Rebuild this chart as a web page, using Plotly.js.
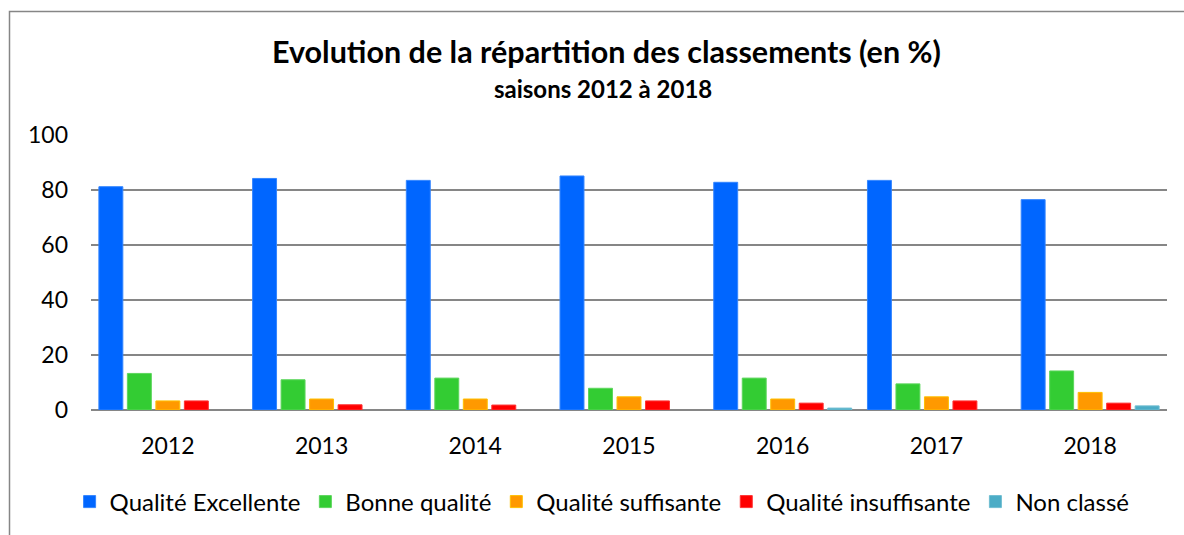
<!DOCTYPE html>
<html>
<head>
<meta charset="utf-8">
<script src="https://cdn.plot.ly/plotly-3.0.1.min.js"></script>
<style>
  html, body { margin: 0; padding: 0; background: #fff; }
  #chart { width: 1184px; height: 535px; }
</style>
</head>
<body>
<div id="chart"></div>
<script>
const years = ['2012', '2013', '2014', '2015', '2016', '2017', '2018'];
const excellente = [81.2, 84.2, 83.5, 85.1, 82.8, 83.5, 76.5];
const bonne = [13.3, 11.0, 11.6, 7.9, 11.6, 9.5, 14.2];
const suffisante = [3.3, 4.0, 4.0, 4.8, 4.0, 4.8, 6.4];
const insuffisante = [3.3, 1.9, 1.8, 3.3, 2.5, 3.3, 2.5];
const nonClasse = [null, null, null, null, 0.7, null, 1.5];
const seriesNames = ['Qualité Excellente', 'Bonne qualité', 'Qualité suffisante', 'Qualité insuffisante', 'Non classé'];
const yTicks = [0, 20, 40, 60, 80, 100];

const FONT = 'Lato, Carlito, Calibri, sans-serif';
const fills = ['#0066FF', '#33CC33', '#FF9900', '#FF0000', '#4BACC6'];
const edges = ['#3385FF', '#5CD65C', '#FFC000', '#FF3333', '#6FBDD1'];
const values = [excellente, bonne, suffisante, insuffisante, nonClasse];

const traces = values.map((v, i) => ({
  type: 'bar',
  name: seriesNames[i],
  x: years,
  y: v,
  marker: { color: fills[i], line: { color: edges[i], width: 1 } },
  hoverinfo: 'x+y+name'
}));

const layout = {
  width: 1184,
  height: 535,
  paper_bgcolor: '#ffffff',
  plot_bgcolor: '#ffffff',
  margin: { l: 91, r: 17, t: 135, b: 124 },
  barmode: 'group',
  bargap: 0.073,
  bargroupgap: 0.16,
  font: { family: FONT, color: '#000000', size: 23 },
  title: {
    text: '<b>Evolution de la répartition des classements (en %)</b>',
    font: { family: FONT, size: 30.5, color: '#000000' },
    x: 0.479, xanchor: 'center', xref: 'paper',
    y: 1 - 52 / 535, yanchor: 'middle'
  },
  annotations: [{
    text: '<b>saisons 2012 à 2018</b>',
    xref: 'paper', yref: 'paper',
    x: 0.4755, y: (411 - 88) / 276, xanchor: 'center', yanchor: 'middle',
    showarrow: false,
    font: { family: FONT, size: 24, color: '#000000' }
  }],
  xaxis: {
    type: 'category',
    showgrid: false,
    showline: false,
    zeroline: false,
    ticks: '',
    ticklabelstandoff: 20,
    tickfont: { family: FONT, size: 23, color: '#000000' }
  },
  yaxis: {
    range: [0, 100],
    tickvals: yTicks,
    ticktext: yTicks.map(String),
    showgrid: true,
    gridcolor: '#868686',
    gridwidth: 1.5,
    zeroline: true,
    zerolinecolor: '#868686',
    zerolinewidth: 1.5,
    showline: false,
    ticks: '',
    ticklabelstandoff: 22,
    tickfont: { family: FONT, size: 23, color: '#000000' },
    fixedrange: true
  },
  showlegend: true,
  legend: {
    orientation: 'h',
    x: 0.475, xanchor: 'center',
    y: (411 - 502) / 276, yanchor: 'middle',
    font: { family: FONT, size: 24, color: '#000000' },
    itemwidth: 30,
    traceorder: 'normal',
    bgcolor: 'rgba(0,0,0,0)'
  },
  shapes: [{
    type: 'rect', xref: 'paper', yref: 'paper',
    x0: (9.5 - 91) / 1076, x1: (1200 - 91) / 1076,
    y0: (411 - 560) / 276, y1: (411 - 11) / 276,
    line: { color: '#868686', width: 1.5 },
    fillcolor: 'rgba(0,0,0,0)',
    layer: 'below'
  }]
};

Plotly.newPlot('chart', traces, layout, { displayModeBar: false, staticPlot: false });
</script>
</body>
</html>
